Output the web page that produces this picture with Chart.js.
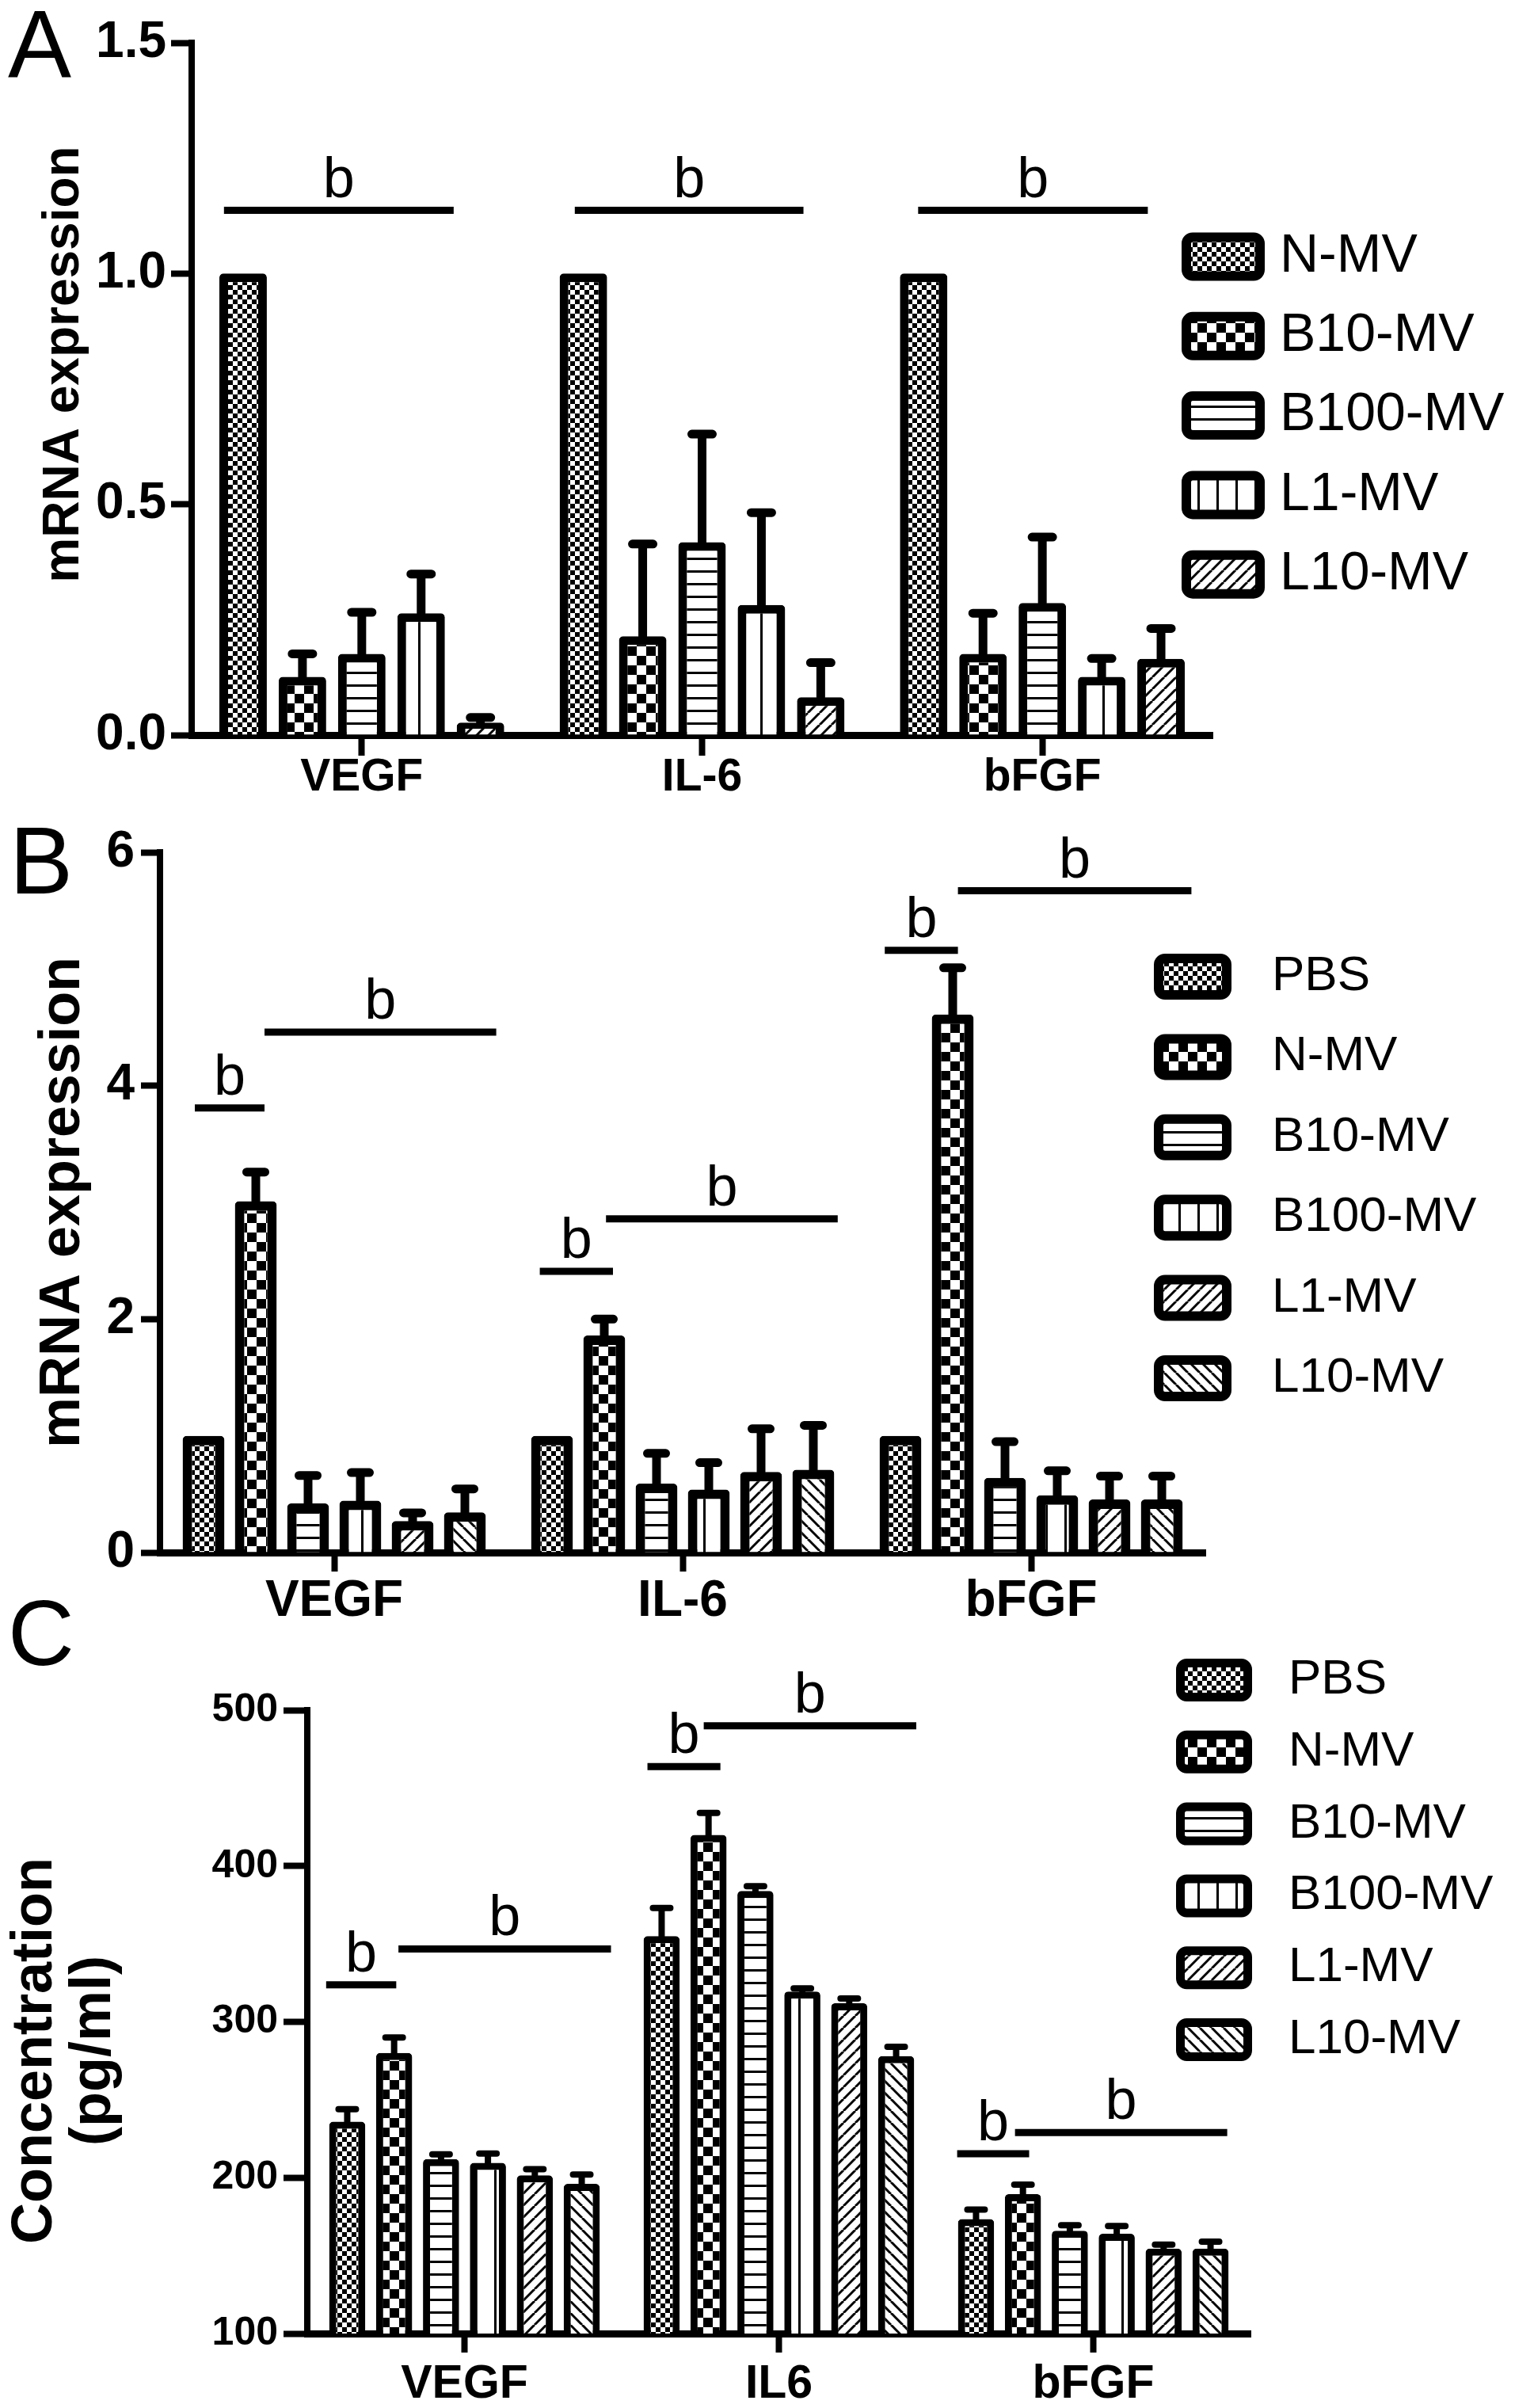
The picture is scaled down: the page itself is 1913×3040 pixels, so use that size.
<!DOCTYPE html>
<html>
<head>
<meta charset="utf-8">
<script src="https://cdn.jsdelivr.net/npm/chart.js@4.4.1/dist/chart.umd.min.js"></script>
<style>
  html, body { margin: 0; padding: 0; background: #fff; }
  body { width: 1913px; height: 3040px; position: relative; overflow: hidden; }
  canvas { position: absolute; left: 0; }
</style>
</head>
<body>
<canvas id="chartA" width="1913" height="1028" style="top:0"></canvas>
<canvas id="chartB" width="1913" height="1022" style="top:1028px"></canvas>
<canvas id="chartC" width="1913" height="1050" style="top:1990px"></canvas>
<script>
const FONT = '"Liberation Sans", Arial, Helvetica, sans-serif';
const NARROW = '"Liberation Sans Narrow", "Arial Narrow", "Liberation Sans", Arial, sans-serif';

// Panel A: mRNA expression, relative to N-MV
const genesA = ['VEGF', 'IL-6', 'bFGF'];
const seriesA = ['N-MV', 'B10-MV', 'B100-MV', 'L1-MV', 'L10-MV'];
const meanA = [
  [1.0, 1.0, 1.0],
  [0.126, 0.214, 0.176],
  [0.176, 0.418, 0.286],
  [0.264, 0.282, 0.126],
  [0.027, 0.082, 0.165]
];
const errA = [
  [0, 0, 0],
  [0.05, 0.2, 0.088],
  [0.09, 0.234, 0.143],
  [0.085, 0.2, 0.04],
  [0.011, 0.075, 0.066]
];
const ticksA = [0, 0.5, 1.0, 1.5];
// [gene, from, to (category units), y]
const sigA = [
  [0, -0.405, 0.27, 1.137],
  [1, -0.374, 0.298, 1.137],
  [2, -0.365, 0.31, 1.137]
];

// Panel B: mRNA expression, relative to PBS
const genesB = ['VEGF', 'IL-6', 'bFGF'];
const seriesB = ['PBS', 'N-MV', 'B10-MV', 'B100-MV', 'L1-MV', 'L10-MV'];
const meanB = [
  [1.0, 1.0, 1.0],
  [3.01, 1.86, 4.61],
  [0.42, 0.59, 0.64],
  [0.445, 0.54, 0.49],
  [0.27, 0.69, 0.455],
  [0.345, 0.71, 0.455]
];
const errB = [
  [0, 0, 0],
  [0.25, 0.14, 0.40],
  [0.24, 0.26, 0.31],
  [0.24, 0.23, 0.21],
  [0.07, 0.37, 0.2],
  [0.2, 0.38, 0.2]
];
const ticksB = [0, 2, 4, 6];
const sigB = [
  [0, -0.40, -0.20, 3.81], [0, -0.20, 0.465, 4.46],
  [1, -0.41, -0.20, 2.41], [1, -0.22, 0.445, 2.86],
  [2, -0.42, -0.21, 5.16], [2, -0.21, 0.46, 5.67]
];

// Panel C: protein concentration (pg/ml)
const genesC = ['VEGF', 'IL6', 'bFGF'];
const seriesC = ['PBS', 'N-MV', 'B10-MV', 'B100-MV', 'L1-MV', 'L10-MV'];
const meanC = [
  [236, 355, 173.5],
  [280, 420, 189.5],
  [212, 384, 166],
  [209.5, 319.5, 164],
  [201.5, 312, 154.5],
  [196, 278, 154.5]
];
const errC = [
  [8, 18, 6],
  [10, 14, 6],
  [3, 3, 3.5],
  [6, 2, 5],
  [4, 3, 2.5],
  [6, 6, 4.5]
];
const ticksC = [100, 200, 300, 400, 500];
const sigC = [
  [0, -0.44, -0.217, 323.7], [0, -0.21, 0.466, 346.8],
  [1, -0.418, -0.186, 463.8], [1, -0.239, 0.437, 490],
  [2, -0.433, -0.204, 215.4], [2, -0.249, 0.426, 229]
];

Chart.defaults.animation = false;
Chart.defaults.color = '#000';

function makePattern(kind) {
  const sizes = { fine: 12, coarse: 24, hlines: 16, vlines: 24, up: 15, down: 15 };
  const s = sizes[kind];
  const c = document.createElement('canvas');
  c.width = s; c.height = s;
  const p = c.getContext('2d');
  p.fillStyle = '#fff'; p.fillRect(0, 0, s, s);
  p.fillStyle = '#000'; p.strokeStyle = '#000';
  if (kind === 'fine' || kind === 'coarse') {
    const h = s / 2;
    p.fillRect(0, 0, h, h); p.fillRect(h, h, h, h);
  } else if (kind === 'hlines') {
    p.fillRect(0, 0, s, 3);
  } else if (kind === 'vlines') {
    p.fillRect(0, 0, 3, s);
  } else {
    p.lineWidth = 3;
    for (const o of [-s, 0, s]) {
      p.beginPath();
      if (kind === 'up') { p.moveTo(o, s); p.lineTo(o + s, 0); }
      else { p.moveTo(o, 0); p.lineTo(o + s, s); }
      p.stroke();
    }
  }
  return p.createPattern(c, 'repeat');
}

const fillA = ['fine', 'coarse', 'hlines', 'vlines', 'up'].map(makePattern);
const fillBC = ['fine', 'coarse', 'hlines', 'vlines', 'up', 'down'].map(makePattern);

function extras(cfg) {
  return {
    id: 'extras' + cfg.letter,
    afterDatasetsDraw(chart) {
      const ctx = chart.ctx, xs = chart.scales.x, ys = chart.scales.y;
      ctx.save();
      ctx.strokeStyle = '#000';
      ctx.fillStyle = '#000';
      ctx.lineCap = 'round';
      ctx.lineWidth = cfg.errWidth;
      cfg.err.forEach((row, i) => {
        const meta = chart.getDatasetMeta(i);
        row.forEach((e, j) => {
          if (!e) return;
          const bar = meta.data[j];
          const top = ys.getPixelForValue(cfg.mean[i][j] + e);
          const half = cfg.capWidth / 2 - cfg.errWidth / 2;
          ctx.beginPath();
          ctx.moveTo(bar.x, bar.y);
          ctx.lineTo(bar.x, top);
          ctx.moveTo(bar.x - half, top);
          ctx.lineTo(bar.x + half, top);
          ctx.stroke();
        });
      });
      ctx.lineCap = 'butt';
      ctx.lineWidth = 9;
      ctx.font = '72px ' + FONT;
      ctx.textAlign = 'center';
      ctx.textBaseline = 'alphabetic';
      cfg.sig.forEach(([g, a, b, v]) => {
        const x0 = xs.getPixelForValue(g + a);
        const x1 = xs.getPixelForValue(g + b);
        const py = ys.getPixelForValue(v);
        ctx.beginPath();
        ctx.moveTo(x0, py);
        ctx.lineTo(x1, py);
        ctx.stroke();
        ctx.fillText('b', (x0 + x1) / 2, py - 17);
      });
      ctx.restore();
    },
    afterDraw(chart) {
      const ctx = chart.ctx, L = cfg.legend;
      ctx.save();
      chart.data.datasets.forEach((ds, i) => {
        const cy = L.y + i * L.gap;
        ctx.beginPath();
        ctx.roundRect(L.x + L.bw / 2, cy - L.h / 2 + L.bw / 2, L.w - L.bw, L.h - L.bw, L.r);
        ctx.fillStyle = ds.backgroundColor;
        ctx.fill();
        ctx.lineWidth = L.bw;
        ctx.strokeStyle = '#000';
        ctx.stroke();
        ctx.fillStyle = '#000';
        ctx.font = L.size + 'px ' + FONT;
        ctx.textAlign = 'left';
        ctx.textBaseline = 'middle';
        ctx.fillText(ds.label, L.tx, cy);
      });
      ctx.fillStyle = '#000';
      ctx.font = cfg.letterSize + 'px ' + FONT;
      ctx.textAlign = 'left';
      ctx.textBaseline = 'alphabetic';
      ctx.fillText(cfg.letter, cfg.letterX, cfg.letterY);
      if (cfg.title) {
        // axis title placed off-centre, as in the original figure
        const T = cfg.title;
        ctx.font = 'bold ' + T.size + 'px ' + FONT;
        ctx.textAlign = 'center';
        ctx.textBaseline = 'middle';
        T.lines.forEach((line, k) => {
          ctx.save();
          ctx.translate(T.xs[k], T.y);
          ctx.rotate(-Math.PI / 2);
          ctx.fillText(line, 0, 0);
          ctx.restore();
        });
      }
      ctx.restore();
    }
  };
}

function buildChart(id, p) {
  const datasets = p.series.map((name, i) => ({
    label: name,
    data: p.mean[i],
    backgroundColor: p.fills[i],
    borderColor: '#000',
    borderWidth: p.barBorder,
    borderRadius: 5,
    barPercentage: p.barPct,
    categoryPercentage: p.catPct
  }));
  return new Chart(document.getElementById(id), {
    type: 'bar',
    data: { labels: p.genes, datasets },
    options: {
      responsive: false,
      layout: { padding: { left: 0, top: p.top, right: p.right, bottom: 0 } },
      plugins: { legend: { display: false }, tooltip: { enabled: false } },
      scales: {
        x: {
          z: 1,
          grid: { display: true, drawOnChartArea: false, offset: false, tickLength: p.xTick, tickWidth: 8, tickColor: '#000' },
          border: { display: true, color: '#000', width: 9 },
          ticks: { color: '#000', padding: p.xPad, autoSkip: false, maxRotation: 0, font: p.xFont },
          afterFit: s => { s.height = p.xHeight; }
        },
        y: {
          z: 1,
          min: p.ticks[0],
          max: p.ticks[p.ticks.length - 1],
          grid: { display: true, drawOnChartArea: false, tickLength: p.yTick, tickWidth: 8, tickColor: '#000' },
          border: { display: true, color: '#000', width: 8 },
          ticks: { color: '#000', padding: p.yPad, font: p.yFont, callback: p.fmt },
          afterBuildTicks: s => { s.ticks = p.ticks.map(v => ({ value: v })); },
          title: { display: !!p.title, text: p.title || '', color: '#000', font: p.titleFont, padding: { top: p.titlePad, bottom: 0 } },
          afterFit: s => { s.width = p.yWidth; }
        }
      }
    },
    plugins: [extras(p.extra)]
  });
}

buildChart('chartA', {
  genes: genesA, series: seriesA, mean: meanA, fills: fillA, ticks: ticksA,
  fmt: v => v.toFixed(1),
  barBorder: 11, barPct: 0.8, catPct: 0.872,
  top: 54, right: 382, xHeight: 100, yWidth: 242,
  xTick: 26, xPad: -6, yTick: 26, yPad: 6,
  xFont: { family: NARROW, size: 57, weight: 'bold' },
  yFont: { family: NARROW, size: 64, weight: 'bold' },
  title: null,
  extra: {
    letter: 'A', letterSize: 120, letterX: 10, letterY: 97, mean: meanA, err: errA, sig: sigA,
    errWidth: 11, capWidth: 37,
    title: { lines: ['mRNA expression'], xs: [81], y: 460, size: 64 },
    legend: { x: 1492, y: 324, gap: 100.3, w: 105, h: 61, bw: 12, r: 8, tx: 1616, size: 68 }
  }
});

buildChart('chartB', {
  genes: genesB, series: seriesB, mean: meanB, fills: fillBC, ticks: ticksB,
  fmt: v => String(v),
  barBorder: 12, barPct: 0.8, catPct: 0.9,
  top: 48, right: 391, xHeight: 90, yWidth: 202,
  xTick: 24, xPad: 0, yTick: 24, yPad: 8,
  xFont: { family: FONT, size: 64, weight: 'bold' },
  yFont: { family: NARROW, size: 64, weight: 'bold' },
  title: 'mRNA expression', titleFont: { family: FONT, size: 72, weight: 'bold' }, titlePad: 37,
  extra: {
    letter: 'B', letterSize: 120, letterX: 12, letterY: 100, mean: meanB, err: errB, sig: sigB,
    errWidth: 11, capWidth: 34,
    legend: { x: 1457, y: 205, gap: 101.4, w: 98, h: 58, bw: 12, r: 8, tx: 1606, size: 62 }
  }
});

buildChart('chartC', {
  genes: genesC, series: seriesC, mean: meanC, fills: fillBC, ticks: ticksC,
  fmt: v => String(v),
  barBorder: 9, barPct: 0.77, catPct: 0.895,
  top: 169, right: 334, xHeight: 94, yWidth: 388,
  xTick: 24, xPad: 5, yTick: 30, yPad: 7,
  xFont: { family: FONT, size: 59, weight: 'bold' },
  yFont: { family: FONT, size: 50, weight: 'bold' },
  title: null,
  extra: {
    letter: 'C', letterSize: 116, letterX: 10, letterY: 112, mean: meanC, err: errC, sig: sigC,
    errWidth: 8, capWidth: 30,
    title: { lines: ['Concentration', '(pg/ml)'], xs: [45, 119], y: 599, size: 72 },
    legend: { x: 1485, y: 131, gap: 90.8, w: 96, h: 54, bw: 11, r: 8, tx: 1627, size: 62 }
  }
});
</script>
</body>
</html>
